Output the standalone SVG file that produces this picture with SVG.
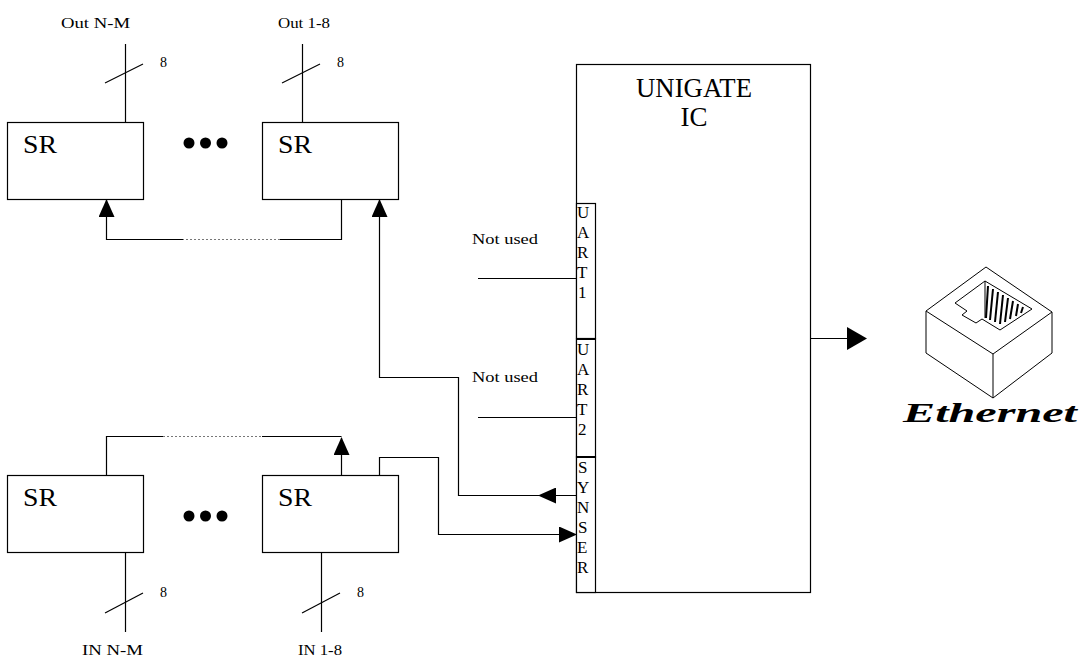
<svg xmlns="http://www.w3.org/2000/svg" width="1084" height="657" viewBox="0 0 1084 657">
<defs>
<style>
.box{fill:#fff;stroke:#000;stroke-width:1.2}
.ln{fill:none;stroke:#000;stroke-width:1.2}
.dot{fill:none;stroke:#777;stroke-width:1.2;stroke-dasharray:2 2}
.ic{fill:#fff;stroke:#000;stroke-width:1;stroke-linejoin:round}
.hatch{stroke:#000;stroke-width:2}
</style>
<marker id="ah" markerUnits="userSpaceOnUse" markerWidth="18" markerHeight="16" refX="17" refY="8" orient="auto" viewBox="0 0 18 16">
<path d="M0,0 L18,8 L0,16 Z" fill="#000"/>
</marker>
</defs>
<rect width="1084" height="657" fill="#fff"/>

<g id="connectors">
<line class="ln" x1="125.5" y1="44" x2="125.5" y2="122"/>
<line class="ln" x1="105" y1="83" x2="143" y2="64"/>
<line class="ln" x1="302.5" y1="44" x2="302.5" y2="122"/>
<line class="ln" x1="282" y1="83" x2="320" y2="64"/>
<line class="ln" x1="125.5" y1="553" x2="125.5" y2="632"/>
<line class="ln" x1="105" y1="613" x2="143" y2="593"/>
<line class="ln" x1="321.5" y1="553" x2="321.5" y2="632"/>
<line class="ln" x1="302" y1="613" x2="340" y2="593"/>
<polyline class="ln" points="341.5,199 341.5,239.5 280,239.5"/>
<line class="dot" x1="280" y1="239.5" x2="183" y2="239.5"/>
<polyline class="ln" points="183,239.5 106.5,239.5 106.5,200" marker-end="url(#ah)"/>
<polyline class="ln" points="576,495.5 458.5,495.5 458.5,377.5 379.5,377.5 379.5,200" marker-end="url(#ah)"/>
<polyline class="ln" points="576,495.5 539,495.5" marker-end="url(#ah)"/>
<polyline class="ln" points="106.5,475 106.5,436.5 163,436.5"/>
<line class="dot" x1="163" y1="436.5" x2="262" y2="436.5"/>
<line class="ln" x1="262" y1="436.5" x2="341.5" y2="436.5"/>
<line class="ln" x1="341.5" y1="475" x2="341.5" y2="438" marker-end="url(#ah)"/>
<polyline class="ln" points="379.5,475 379.5,457.5 438.5,457.5 438.5,534.5 576,534.5" marker-end="url(#ah)"/>
<line class="ln" x1="478" y1="278.5" x2="576" y2="278.5"/>
<line class="ln" x1="478" y1="417.5" x2="576" y2="417.5"/>
<line class="ln" x1="811" y1="338.5" x2="848" y2="338.5"/>
<path d="M847,327 L867,338.5 L847,350 Z" fill="#000"/>
</g>

<g id="labels" font-family="'Liberation Serif', 'Times New Roman', 'DejaVu Serif', serif" font-size="14" fill="#000">
<text x="61" y="28" textLength="69" lengthAdjust="spacingAndGlyphs">Out  N-M</text>
<text x="278" y="28" textLength="52" lengthAdjust="spacingAndGlyphs">Out 1-8</text>
<text x="160" y="67">8</text>
<text x="337" y="67">8</text>
<text x="160" y="597">8</text>
<text x="357" y="597">8</text>
<text x="82" y="655" textLength="61" lengthAdjust="spacingAndGlyphs">IN  N-M</text>
<text x="298" y="655" textLength="44" lengthAdjust="spacingAndGlyphs">IN 1-8</text>
<text x="472" y="244" textLength="66" lengthAdjust="spacingAndGlyphs">Not  used</text>
<text x="472" y="382" textLength="66" lengthAdjust="spacingAndGlyphs">Not  used</text>
</g>

<g id="sr-out-nm">
<rect class="box" x="7.5" y="122.5" width="136" height="77"/>
<text x="23" y="153" font-family="'Liberation Serif', 'Times New Roman', 'DejaVu Serif', serif" font-size="26" textLength="34" lengthAdjust="spacingAndGlyphs">SR</text>
</g>
<g id="dots-top">
<circle cx="189" cy="143" r="5.5"/>
<circle cx="205.5" cy="143" r="5.5"/>
<circle cx="222" cy="143" r="5.5"/>
</g>
<g id="sr-out-18">
<rect class="box" x="262.5" y="122.5" width="136" height="77"/>
<text x="278" y="153" font-family="'Liberation Serif', 'Times New Roman', 'DejaVu Serif', serif" font-size="26" textLength="34" lengthAdjust="spacingAndGlyphs">SR</text>
</g>
<g id="sr-in-nm">
<rect class="box" x="7.5" y="475.5" width="136" height="77"/>
<text x="23" y="506" font-family="'Liberation Serif', 'Times New Roman', 'DejaVu Serif', serif" font-size="26" textLength="34" lengthAdjust="spacingAndGlyphs">SR</text>
</g>
<g id="dots-bottom">
<circle cx="189" cy="516" r="5.5"/>
<circle cx="205.5" cy="516" r="5.5"/>
<circle cx="222" cy="516" r="5.5"/>
</g>
<g id="sr-in-18">
<rect class="box" x="262.5" y="475.5" width="136" height="77"/>
<text x="278" y="506" font-family="'Liberation Serif', 'Times New Roman', 'DejaVu Serif', serif" font-size="26" textLength="34" lengthAdjust="spacingAndGlyphs">SR</text>
</g>

<g id="unigate">
<rect class="box" x="576.5" y="64.5" width="234" height="528"/>
<g font-family="'Liberation Serif', 'Times New Roman', 'DejaVu Serif', serif" font-size="27" text-anchor="middle">
<text x="694" y="97" textLength="116" lengthAdjust="spacingAndGlyphs">UNIGATE</text>
<text x="694" y="126">IC</text>
</g>
</g>
<g id="ports" font-family="'Liberation Serif', 'Times New Roman', 'DejaVu Serif', serif" font-size="17">
<g id="uart1">
<rect class="box" x="576.5" y="203.5" width="19" height="135"/>
<text x="577" y="218">U</text>
<text x="577" y="238">A</text>
<text x="577" y="258">R</text>
<text x="577" y="278">T</text>
<text x="578" y="298">1</text>
</g>
<g id="uart2">
<rect class="box" x="576.5" y="339" width="19" height="118"/>
<text x="577" y="355">U</text>
<text x="577" y="375">A</text>
<text x="577" y="395">R</text>
<text x="577" y="415">T</text>
<text x="578" y="435">2</text>
</g>
<g id="synser">
<rect class="box" x="576.5" y="457" width="19" height="135.5"/>
<text x="578" y="473">S</text>
<text x="577" y="493">Y</text>
<text x="577" y="513">N</text>
<text x="578" y="533">S</text>
<text x="577" y="553">E</text>
<text x="577" y="573">R</text>
</g>
<line x1="576" y1="339" x2="596" y2="339" stroke="#000" stroke-width="2"/>
<line x1="576" y1="457" x2="596" y2="457" stroke="#000" stroke-width="2"/>
</g>

<g id="ethernet">
<path class="ic" d="M986,267 L1052,312 L1052,353 L993,398 L926,353 L926,311 Z"/>
<path class="ic" d="M926,311 L993,354 L1052,312"/>
<line x1="993" y1="354" x2="993" y2="398" stroke="#000" stroke-width="1"/>
<path class="ic" d="M985,281 L1032,309 L1000,330 L982,319 L976,323 L962,315 L967,311 L955,303 Z"/>
<line x1="985" y1="281" x2="985" y2="318" stroke="#000" stroke-width="1"/>
<g class="hatch">
<line x1="988" y1="286" x2="986" y2="318"/>
<line x1="993" y1="289" x2="990" y2="320"/>
<line x1="998" y1="292" x2="995" y2="322"/>
<line x1="1003" y1="295" x2="1000" y2="324"/>
<line x1="1008" y1="298" x2="1005" y2="322"/>
<line x1="1013" y1="301" x2="1010" y2="319"/>
<line x1="1018" y1="304" x2="1016" y2="316"/>
<line x1="1023" y1="307" x2="1021" y2="313"/>
</g>
<text x="903" y="422" font-family="'Liberation Serif', 'Times New Roman', serif" font-size="27" font-weight="bold" font-style="italic" textLength="174" lengthAdjust="spacingAndGlyphs">Ethernet</text>
</g>
</svg>
